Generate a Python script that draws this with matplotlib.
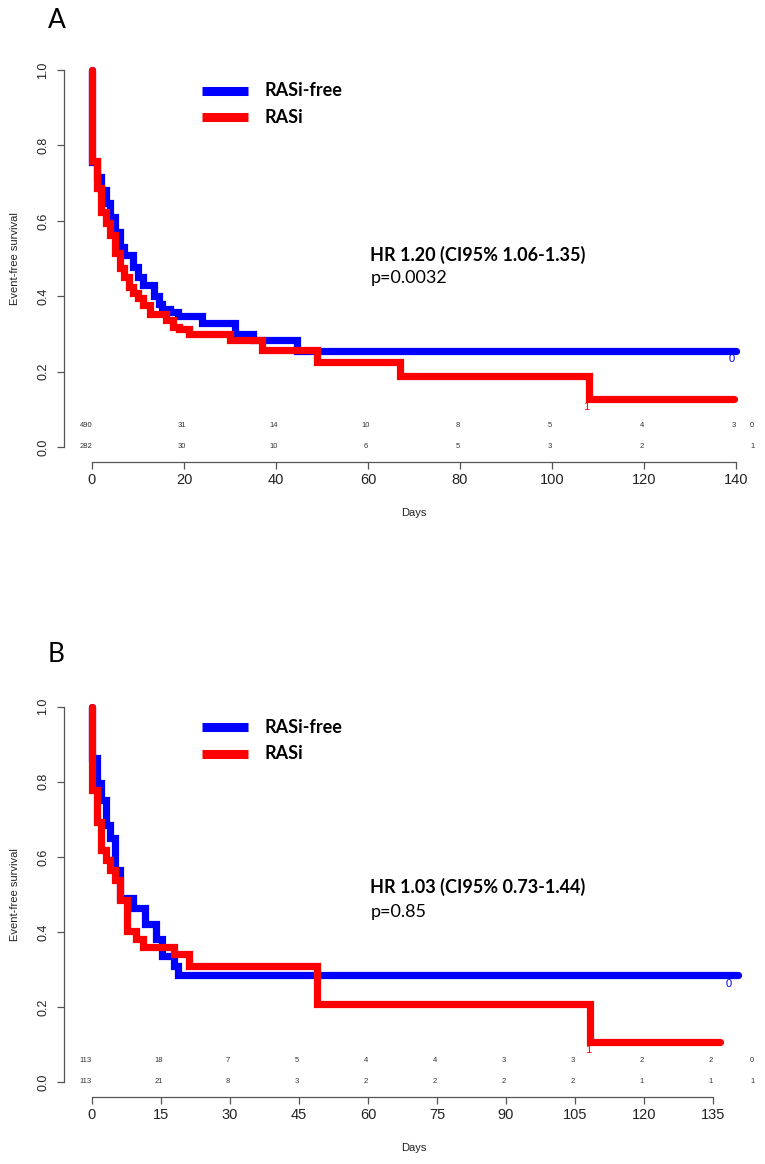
import matplotlib
matplotlib.use("Agg")
import matplotlib.pyplot as plt
import numpy as np

# ---------------- data ----------------
# Panel A (days, survival after step)
a_free_t = [0, 1, 2, 3, 4, 5, 6, 7, 9, 10, 11, 13.5, 14.5, 15.3, 17, 18.7, 24, 31, 35, 44.5]
a_free_s = [0.755, 0.717, 0.682, 0.647, 0.61, 0.571, 0.531, 0.509, 0.478, 0.451, 0.43, 0.40, 0.38, 0.367, 0.358, 0.347, 0.33, 0.30, 0.283, 0.255]
a_free_end = 140
a_rasi_t = [0, 1, 2, 3, 4, 5, 6, 7, 8, 9, 10, 11, 12.5, 16, 17.5, 19, 21, 30, 37, 49, 67, 108]
a_rasi_s = [0.76, 0.687, 0.624, 0.594, 0.562, 0.514, 0.474, 0.451, 0.424, 0.408, 0.395, 0.377, 0.354, 0.336, 0.319, 0.312, 0.30, 0.284, 0.257, 0.226, 0.187, 0.127]
a_rasi_end = 139.5

# Panel B
b_free_t = [0, 1, 2, 3, 4, 5, 6, 9, 11.5, 14, 15.3, 17.8, 18.7]
b_free_s = [0.863, 0.796, 0.751, 0.685, 0.65, 0.565, 0.49, 0.464, 0.42, 0.38, 0.337, 0.31, 0.285]
b_free_end = 140.4
b_rasi_t = [0, 1, 2, 3, 4, 5, 6, 7.6, 9.5, 11, 17.8, 21, 49, 108.3]
b_rasi_s = [0.778, 0.693, 0.618, 0.591, 0.564, 0.538, 0.485, 0.403, 0.38, 0.361, 0.34, 0.31, 0.207, 0.106]
b_rasi_end = 136.5

# Number-at-risk tables
a_risk_t = [0, 20, 40, 60, 80, 100, 120, 140, 144]
a_risk_free = ["490", "31", "14", "10", "8", "5", "4", "3", "0"]
a_risk_rasi = ["282", "30", "10", "6", "5", "3", "2", "", "1"]
b_risk_t = [0, 15, 30, 45, 60, 75, 90, 105, 120, 135, 144]
b_risk_free = ["113", "18", "7", "5", "4", "4", "3", "3", "2", "2", "0"]
b_risk_rasi = ["113", "21", "8", "3", "2", "2", "2", "2", "1", "1", "1"]

a_xticks = [0, 20, 40, 60, 80, 100, 120, 140]
b_xticks = [0, 15, 30, 45, 60, 75, 90, 105, 120, 135]
yticks = [0.0, 0.2, 0.4, 0.6, 0.8, 1.0]

labels = ["RASi-free", "RASi"]
a_stats = ["HR 1.20 (CI95% 1.06-1.35)", "p=0.0032"]
b_stats = ["HR 1.03 (CI95% 0.73-1.44)", "p=0.85"]

BLUE = "#0000ff"
RED = "#ff0000"

W, H = 765, 1164
fig = plt.figure(figsize=(W / 100, H / 100), dpi=100)

def px_axes(left, right, top, bottom):
    return fig.add_axes([left / W, 1 - bottom / H, (right - left) / W, (bottom - top) / H])

def step_xy(t, s, end):
    xs = [t[0]]
    ys = [1.0]
    prev = 1.0
    for ti, si in zip(t, s):
        xs += [ti, ti]
        ys += [prev, si]
        prev = si
    xs.append(end)
    ys.append(prev)
    return xs, ys

def draw_panel(ax, free, rasi, risk_t, risk_free, risk_rasi, xticks, stats, stat_y, cens):
    ax.set_xlim(-6, 146)
    ax.set_ylim(-0.04, 1.04)
    for (t, s, e), c in [(free, BLUE), (rasi, RED)]:
        x, y = step_xy(t, s, e)
        ax.plot(x, y, color=c, lw=5.2, solid_capstyle="round", solid_joinstyle="miter", zorder=3)
    (cx0, cy0), (cx1, cy1) = cens
    ax.text(cx0, cy0, "0", color=BLUE, fontsize=8, ha="center", va="center",
            family="Liberation Sans", zorder=4)
    ax.text(cx1, cy1, "1", color=RED, fontsize=8, ha="center", va="center",
            family="Liberation Sans", zorder=4)
    # risk table
    for i, (t, a, b) in enumerate(zip(risk_t, risk_free, risk_rasi)):
        xx = t - 0.5 if i > 0 else -1.3
        ax.text(xx, 0.057, a, fontsize=5.5, color="#333333", ha="center", va="center", family="Liberation Sans")
        ax.text(xx, 0.0, b, fontsize=5.5, color="#333333", ha="center", va="center", family="Liberation Sans")
    # axes
    for sp in ["top", "right"]:
        ax.spines[sp].set_visible(False)
    ax.spines["left"].set_bounds(0, 1)
    ax.spines["bottom"].set_bounds(xticks[0], xticks[-1])
    for sp in ["left", "bottom"]:
        ax.spines[sp].set_color("#555555")
        ax.spines[sp].set_linewidth(0.9)
    ax.set_xticks(xticks)
    ax.set_xticklabels([str(v) for v in xticks], fontsize=10.5, family="Liberation Sans", color="#222222")
    ax.set_yticks(yticks)
    ax.set_yticklabels(["%.1f" % v for v in yticks], fontsize=9, family="Liberation Sans",
                       rotation=90, va="center", color="#222222")
    ax.tick_params(axis="both", color="#555555", length=5, width=0.9)
    ax.tick_params(axis="x", pad=3)
    ax.tick_params(axis="y", pad=6)
    ax.set_xlabel("Days", fontsize=8, family="Liberation Sans", labelpad=15, color="#222222")
    ax.set_ylabel("Event-free survival", fontsize=8, family="Liberation Sans", labelpad=12, color="#222222")
    # legend (manual, R-style)
    ax.plot([24, 34], [0.945, 0.945], color=BLUE, lw=6.5, solid_capstyle="butt")
    ax.plot([24, 34], [0.875, 0.875], color=RED, lw=6.5, solid_capstyle="butt")
    ax.text(37.5, 0.945, labels[0], fontsize=13, fontweight="bold", family="Lato", va="center")
    ax.text(37.5, 0.875, labels[1], fontsize=13, fontweight="bold", family="Lato", va="center")
    ax.text(60.5, stat_y[0], stats[0], fontsize=13, fontweight="bold", family="Lato", va="center")
    ax.text(60.5, stat_y[1], stats[1], fontsize=13, family="Lato", va="center")

axA = px_axes(64.4, 763.6, 55, 462)
draw_panel(axA, (a_free_t, a_free_s, a_free_end), (a_rasi_t, a_rasi_s, a_rasi_end),
           a_risk_t, a_risk_free, a_risk_rasi, a_xticks, a_stats, (0.51, 0.447),
           [(139, 0.232), (107.5, 0.105)])
axB = px_axes(64.4, 763.6, 691.7, 1097)
draw_panel(axB, (b_free_t, b_free_s, b_free_end), (b_rasi_t, b_rasi_s, b_rasi_end),
           b_risk_t, b_risk_free, b_risk_rasi, b_xticks, b_stats, (0.52, 0.453),
           [(138.5, 0.262), (107.8, 0.085)])

fig.text(48 / W, 1 - 20 / H, "A", fontsize=19, family="Lato", va="center", ha="left")
fig.text(48 / W, 1 - 654 / H, "B", fontsize=19, family="Lato", va="center", ha="left")

fig.savefig("out.png", dpi=100)
